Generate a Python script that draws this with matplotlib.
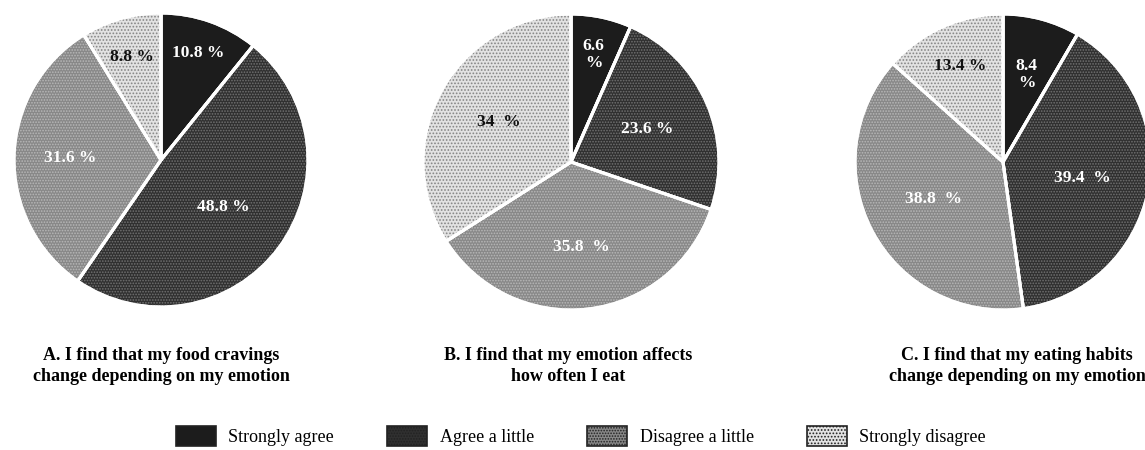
import numpy as np
import matplotlib

matplotlib.use("Agg")
import matplotlib.pyplot as plt
from matplotlib.patches import Patch

plt.rcParams["font.family"] = ["Liberation Serif", "DejaVu Serif"]
plt.rcParams["hatch.linewidth"] = 0.8

# response categories (same order in every pie, clockwise from 12 o'clock)
categories = ["Strongly agree", "Agree a little", "Disagree a little", "Strongly disagree"]

values_a = [10.8, 48.8, 31.6, 8.8]
values_b = [6.6, 23.6, 35.8, 34.0]
values_c = [8.4, 39.4, 38.8, 13.4]

labels_a = ["10.8 %", "48.8 %", "31.6 %", "8.8 %"]
labels_b = ["6.6\n%", "23.6 %", "35.8  %", "34  %"]
labels_c = ["8.4\n%", "39.4  %", "38.8  %", "13.4 %"]

titles = [
    "A. I find that my food cravings\nchange depending on my emotion",
    "B. I find that my emotion affects\nhow often I eat",
    "C. I find that my eating habits\nchange depending on my emotion",
]

# styling per category: fill, hatch, hatch colour, label text colour
face_colors = ["#1c1c1c", "#303030", "#888888", "#e2e2e2"]
hatches = [None, "......", "......", "....."]
hatch_colors = ["#1c1c1c", "#727272", "#b8b8b8", "#858585"]
text_colors = ["white", "white", "white", "#111111"]

# radial position of each percentage label (fraction of radius)
label_dist_a = [0.77, 0.53, 0.62, 0.73]
label_dist_b = [0.74, 0.56, 0.58, 0.56]
label_dist_c = [0.61, 0.55, 0.53, 0.71]

W, H = 1145, 450
fig = plt.figure(figsize=(W / 100, H / 100), dpi=100)

# pie centres / radii in pixels
pies = [
    (161, 160, 147, values_a, labels_a, label_dist_a),
    (571, 162, 148, values_b, labels_b, label_dist_b),
    (1003, 162, 148, values_c, labels_c, label_dist_c),
]
title_x = [161, 568, 1017]

for (cx, cy, r, vals, labs, dists), title, tx in zip(pies, titles, title_x):
    ax = fig.add_axes([(cx - r) / W, (H - cy - r) / H, 2 * r / W, 2 * r / H])
    wedges, _ = ax.pie(
        vals,
        colors=face_colors,
        startangle=90,
        counterclock=False,
        wedgeprops=dict(edgecolor="white", linewidth=2.2),
    )
    # dotted texture on top
    over, _ = ax.pie(
        vals,
        startangle=90,
        counterclock=False,
        wedgeprops=dict(fill=False, linewidth=0),
    )
    for w, h, hc in zip(over, hatches, hatch_colors):
        if h:
            w.set_hatch(h)
            w.set_edgecolor(hc)
        else:
            w.set_visible(False)
    # redraw white separators above hatch
    ax.pie(
        vals,
        startangle=90,
        counterclock=False,
        wedgeprops=dict(fill=False, edgecolor="white", linewidth=2.2),
    )
    for w, lab, d, tc in zip(wedges, labs, dists, text_colors):
        mid = np.deg2rad((w.theta1 + w.theta2) / 2)
        ax.text(d * np.cos(mid), d * np.sin(mid), lab, ha="center", va="center",
                color=tc, fontsize=12.5, fontweight="bold", linespacing=1.1)
    ax.set_xlim(-1, 1)
    ax.set_ylim(-1, 1)
    ax.set_aspect("equal")
    ax.axis("off")
    fig.text(tx / W, 1 - 366 / H, title, ha="center", va="center",
             fontsize=13, fontweight="bold", multialignment="center", linespacing=1.35)

handles = [
    Patch(facecolor=fc, edgecolor="#222222", hatch=h, linewidth=1.2)
    for fc, h in zip(face_colors, hatches)
]
leg = fig.legend(
    handles, categories, loc="center", bbox_to_anchor=(581 / W, 1 - 436 / H),
    ncol=4, frameon=False, fontsize=13, handlelength=2.2, handleheight=1.28,
    handletextpad=0.7, columnspacing=2.95, borderaxespad=0, borderpad=0,
)

fig.savefig("out.png", dpi=100)
